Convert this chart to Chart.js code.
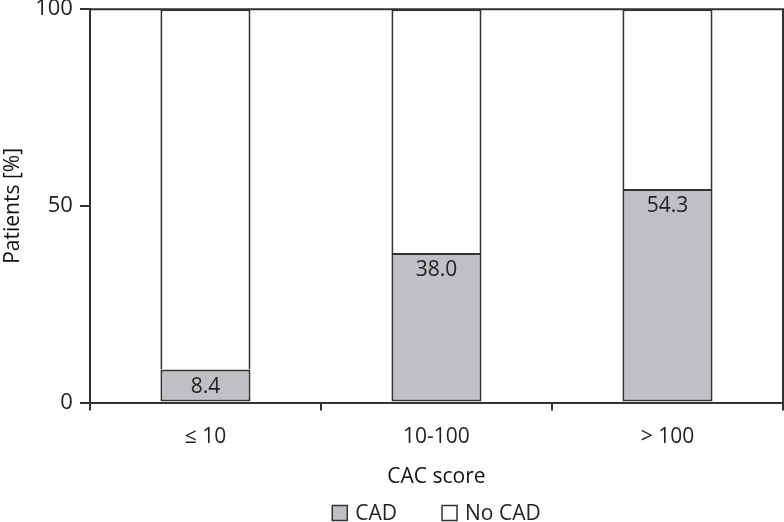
<!DOCTYPE html>
<html>
<head>
<meta charset="utf-8">
<script src="https://cdn.jsdelivr.net/npm/chart.js@4.4.1/dist/chart.umd.min.js"></script>
<style>
  html, body { margin: 0; padding: 0; background: #fff; }
  #wrap { width: 784px; height: 522px; }
</style>
</head>
<body>
<div id="wrap"><canvas id="cacChart"></canvas></div>
<script>
const categories = ['≤ 10', '10-100', '> 100'];
const cadValues = [8.4, 38.0, 54.3];
const noCadValues = [91.6, 62.0, 45.7];
const yTicks = [0, 50, 100];

const FONT = "'Open Sans', 'Noto Sans', sans-serif";
const INK = '#333333';

// frame around plot area + value labels in CAD bars + bottom legend
const extras = {
    id: 'extras',
    afterDatasetsDraw(chart) {
        const ctx = chart.ctx;
        const area = chart.chartArea;
        ctx.save();
        ctx.strokeStyle = INK;
        ctx.lineWidth = 2;
        ctx.beginPath();
        ctx.moveTo(area.left, area.top);
        ctx.lineTo(area.right, area.top);
        ctx.lineTo(area.right, area.bottom);
        ctx.stroke();

        // value labels
        const meta = chart.getDatasetMeta(0);
        ctx.fillStyle = '#222';
        ctx.font = '21px ' + FONT;
        ctx.textAlign = 'center';
        ctx.textBaseline = 'middle';
        meta.data.forEach((bar, i) => {
            ctx.fillText(cadValues[i].toFixed(1), bar.x, bar.y + 17);
        });

        // legend
        ctx.font = '21px ' + FONT;
        ctx.textBaseline = 'middle';
        ctx.textAlign = 'left';
        const y = 513;
        const items = chart.data.datasets.map(ds => ({ text: ds.label, fill: ds.backgroundColor }));
        const box = 15, gap = 8, spacing = 45;
        let total = 0;
        items.forEach((it, i) => {
            it.w = box + gap + ctx.measureText(it.text).width;
            total += it.w + (i ? spacing : 0);
        });
        let x = (area.left + area.right) / 2 - total / 2;
        items.forEach(it => {
            ctx.fillStyle = it.fill;
            ctx.fillRect(x, y - box / 2, box, box);
            ctx.lineWidth = 1.5;
            ctx.strokeStyle = INK;
            ctx.strokeRect(x, y - box / 2, box, box);
            ctx.fillStyle = '#222';
            ctx.fillText(it.text, x + box + gap, y + 1);
            x += it.w + spacing;
        });
        ctx.restore();
    }
};

new Chart(document.getElementById('cacChart').getContext('2d'), {
    type: 'bar',
    data: {
        labels: categories,
        datasets: [{
            label: 'CAD',
            data: cadValues,
            backgroundColor: '#bfc0c4',
            borderColor: INK,
            borderWidth: 2,
            borderSkipped: false,
            categoryPercentage: 1,
            barPercentage: 0.39
        }, {
            label: 'No CAD',
            data: noCadValues,
            backgroundColor: '#ffffff',
            borderColor: INK,
            borderWidth: 2,
            borderSkipped: 'bottom',
            categoryPercentage: 1,
            barPercentage: 0.39
        }]
    },
    options: {
        responsive: true,
        maintainAspectRatio: false,
        animation: false,
        layout: { padding: { top: 0, right: 1, bottom: 32, left: 0 } },
        scales: {
            x: {
                stacked: true,
                grid: { drawOnChartArea: false, drawTicks: true, tickLength: 8, color: INK, lineWidth: 2, offset: true },
                border: { color: INK, width: 2 },
                ticks: { color: '#222', font: { family: FONT, size: 21 }, padding: 14 },
                title: { display: true, text: 'CAC score', color: '#111', font: { family: FONT, size: 21 }, padding: { top: 1, bottom: 0 } }
            },
            y: {
                stacked: true,
                min: 0,
                max: 100,
                afterBuildTicks(axis) { axis.ticks = yTicks.map(v => ({ value: v })); },
                grid: { drawOnChartArea: false, drawTicks: true, tickLength: 10, color: INK, lineWidth: 2 },
                border: { color: INK, width: 2 },
                ticks: { color: '#222', font: { family: FONT, size: 22, lineHeight: 0.2 }, padding: 7 },
                title: { display: true, text: 'Patients [%]', color: '#111', font: { family: FONT, size: 21 }, padding: { top: 0, bottom: 3 } }
            }
        },
        plugins: {
            legend: { display: false },
            tooltip: { enabled: false }
        }
    },
    plugins: [extras]
});
</script>
</body>
</html>
